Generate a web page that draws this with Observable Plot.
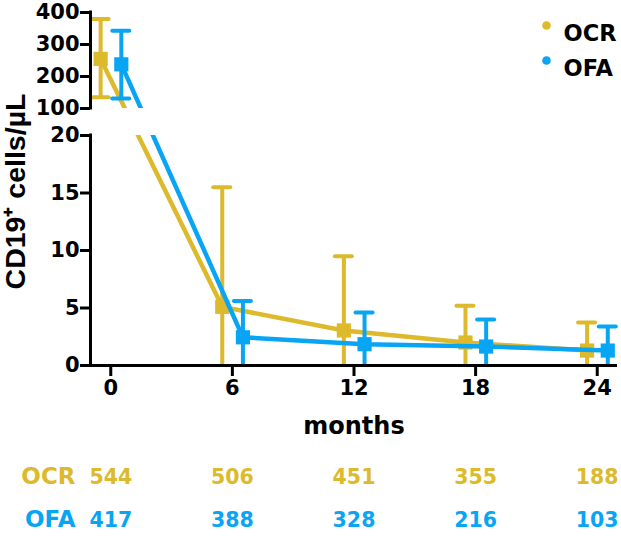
<!DOCTYPE html>
<html><head><meta charset="utf-8">
<script src="https://cdn.jsdelivr.net/npm/d3@7"></script>
<script src="https://cdn.jsdelivr.net/npm/@observablehq/plot@0.6"></script>
<style>body{margin:0;background:#fff}</style>
</head><body><div id="chart"></div>
<script>
const months = [0, 6, 12, 18, 24];
const series = ["OCR", "OFA"];
const colors = ["#DDB92C", "#08A5F4"];
const ocrMean = [255, 5.1, 3.05, 2.0, 1.3];
const ocrLow = [135, 0, 0, 0, 0];
const ocrHigh = [380, 15.5, 9.5, 5.2, 3.75];
const ofaMean = [238, 2.45, 1.85, 1.65, 1.3];
const ofaLow = [131, 0, 0, 0, 0];
const ofaHigh = [343, 5.6, 4.6, 4.0, 3.4];
const ocrN = [544, 506, 451, 355, 188];
const ofaN = [417, 388, 328, 216, 103];
const yTicks = [0, 5, 10, 15, 20, 100, 200, 300, 400];
const yLabel = "CD19\u207A cells/\u00B5L";
const xLabel = "months";

const wide = "'DejaVu Sans', sans-serif";
const arial = "'Liberation Sans', Arial, sans-serif";

const tables = {
  OCR: {mean: ocrMean, low: ocrLow, high: ocrHigh, n: ocrN, off: -0.5},
  OFA: {mean: ofaMean, low: ofaLow, high: ofaHigh, n: ofaN, off: 0.52}
};
const rows = {};
for (const s of series) {
  const t = tables[s];
  rows[s] = months.map((m, i) => ({series: s, month: m, x: m + t.off, mean: t.mean[i], low: t.low[i], high: t.high[i], n: t.n[i]}));
}
const color = s => colors[series.indexOf(s)];

const marks = [];
for (const s of series) {
  const d = rows[s];
  const c = color(s);
  marks.push(
    Plot.line(d, {x: "x", y: "mean", stroke: c, strokeWidth: 4.5, strokeLinecap: "butt"}),
    Plot.ruleX(d, {x: "x", y1: "low", y2: "high", stroke: c, strokeWidth: 4}),
    Plot.ruleY(d, {x1: r => r.x - 0.42, x2: r => r.x + 0.42, y: "high", stroke: c, strokeWidth: 4, strokeLinecap: "round"}),
    Plot.ruleY(d.filter(r => r.low > 0), {x1: r => r.x - 0.42, x2: r => r.x + 0.42, y: "low", stroke: c, strokeWidth: 4, strokeLinecap: "round"}),
    Plot.dot(d, {x: "x", y: "mean", symbol: "square", r: 8, fill: c, stroke: "none"})
  );
}
// axis break gap
marks.push(Plot.rect([0], {x1: -1, x2: 25, y1: 20, y2: 100, fill: "white"}));
// axes
marks.push(
  Plot.ruleY([0], {stroke: "black", strokeWidth: 3}),
  Plot.ruleX([-1], {y1: 0, y2: 20, stroke: "black", strokeWidth: 3, strokeLinecap: "square"}),
  Plot.ruleX([-1], {y1: 100, y2: 400, stroke: "black", strokeWidth: 3, strokeLinecap: "square"}),
  Plot.axisY({ticks: yTicks, tickSize: 10, tickPadding: 1, strokeWidth: 3, label: null, fontSize: 21, fontFamily: wide, fontWeight: "bold"}),
  Plot.axisX({ticks: months, tickSize: 11, tickFormat: () => "", strokeWidth: 3, label: null}),
  Plot.text(months, {x: d => d, text: d => String(d), frameAnchor: "bottom", dy: 29, fontSize: 21, fontFamily: wide, fontWeight: "bold", fill: "black"}),
  Plot.text([yLabel], {frameAnchor: "left", textAnchor: "middle", dx: -75, dy: 2.5, rotate: -90, fontSize: 28.5, fontFamily: arial, fontWeight: "bold", fill: "black"}),
  Plot.text([xLabel], {frameAnchor: "bottom", textAnchor: "middle", dy: 68, fontSize: 24, fontFamily: wide, fontWeight: "bold", fill: "black"})
);
// legend and counts table
series.forEach((s, i) => {
  const c = color(s);
  marks.push(
    Plot.dot([s], {frameAnchor: "top-right", dx: -71, dy: 13 + 35 * i, r: 4.3, fill: c, stroke: "none"}),
    Plot.text([s], {frameAnchor: "top-right", dx: -54, dy: 13 + 35 * i, textAnchor: "start", fontSize: 22.5, fontFamily: wide, fontWeight: "bold", fill: "black"}),
    Plot.text([s], {frameAnchor: "bottom-left", dx: -15, dy: 118 + 43 * i, textAnchor: "end", fontSize: 23, fontFamily: wide, fontWeight: "bold", fill: c}),
    Plot.text(rows[s], {x: "month", text: r => String(r.n), frameAnchor: "bottom", dy: 118 + 43 * i, fontSize: 20.5, fontFamily: wide, fontWeight: "bold", fill: c})
  );
});

const chart = Plot.plot({
  width: 621,
  height: 537,
  marginLeft: 90,
  marginRight: 4,
  marginTop: 12,
  marginBottom: 172,
  style: {fontFamily: wide, fontWeight: "bold", fontSize: "21px", background: "white", overflow: "visible"},
  x: {domain: [-1, 25]},
  y: {type: "linear", domain: [0, 20, 100, 400], range: [365, 135, 108, 12]},
  marks
});
document.getElementById("chart").appendChild(chart);
</script>
</body></html>
